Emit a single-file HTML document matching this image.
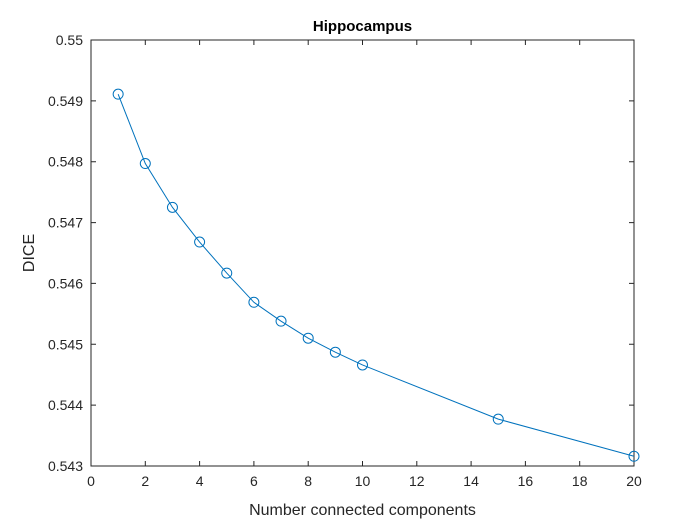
<!DOCTYPE html>
<html><head><meta charset="utf-8"><style>
body{margin:0;background:#fff;}
svg{font-family:"Liberation Sans",Arial,sans-serif;}
</style></head><body>
<svg id="chart" width="700" height="525" viewBox="0 0 700 525">
<rect width="700" height="525" fill="#fff"/>
<g id="plot"></g>
</svg>
<script>
const xValues=[1,2,3,4,5,6,7,8,9,10,15,20];
const diceValues=[0.54911,0.54797,0.54725,0.54668,0.54617,0.54569,0.54538,0.54510,0.54487,0.54466,0.54377,0.54316];
const xTicks=[0,2,4,6,8,10,12,14,16,18,20];
const yTicks=[0.543,0.544,0.545,0.546,0.547,0.548,0.549,0.55];
const yTickLabels=["0.543","0.544","0.545","0.546","0.547","0.548","0.549","0.55"];
const L=91,R=634,T=40,B=466;
const xs=v=>L+(v-0)/(20-0)*(R-L);
const ys=v=>B-(v-0.543)/(0.55-0.543)*(B-T);
const NS="http://www.w3.org/2000/svg";
const g=document.getElementById('plot');
function mk(tag,attrs,parent){const e=document.createElementNS(NS,tag);for(const k in attrs)e.setAttribute(k,attrs[k]);(parent||g).appendChild(e);return e;}
const box=mk('rect',{x:L,y:T,width:R-L,height:B-T,fill:'#fff',stroke:'#262626','stroke-width':1});


xTicks.forEach(t=>{const x=xs(t);
 const l=mk('path',{d:`M${x},${B}V${B-5}M${x},${T}V${T+5}`,stroke:'#262626','stroke-width':1});
 
 
 const tx=mk('text',{x:x,y:B+20,'text-anchor':'middle','font-size':14,fill:'#262626'});tx.textContent=t;
 
 
});
yTicks.forEach((t,i)=>{const y=ys(t);
 const l=mk('path',{d:`M${L},${y}H${L+5}M${R},${y}H${R-5}`,stroke:'#262626','stroke-width':1});
 
 
 const tx=mk('text',{x:L-8,y:y+5,'text-anchor':'end','font-size':14,fill:'#262626'});tx.textContent=yTickLabels[i];
 
 
});
const line=mk('polyline',{points:xValues.map((x,i)=>xs(x)+','+ys(diceValues[i])).join(' '),fill:'none',stroke:'#0072BD','stroke-width':1});


xValues.forEach((x,i)=>{const c=mk('circle',{cx:xs(x),cy:ys(diceValues[i]),r:5,fill:'none',stroke:'#0072BD','stroke-width':1});
 
 
});
const title=mk('text',{x:(L+R)/2,y:31,'text-anchor':'middle','font-size':15,'font-weight':'bold',fill:'#000'});title.textContent='Hippocampus';


const xl=mk('text',{x:(L+R)/2,y:515,'text-anchor':'middle','font-size':16,fill:'#262626'});xl.textContent='Number connected components';


const yl=mk('text',{x:0,y:0,'text-anchor':'middle','font-size':16,fill:'#262626',transform:`translate(34,${(T+B)/2}) rotate(-90)`});yl.textContent='DICE';


</script>
</body></html>
